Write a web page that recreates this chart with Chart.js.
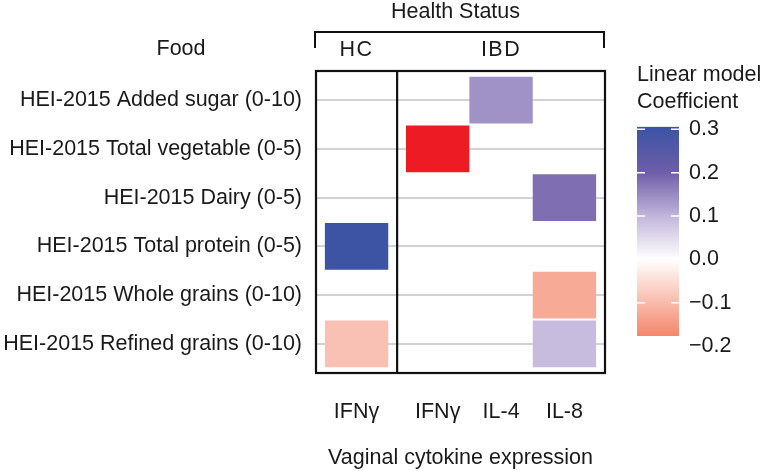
<!DOCTYPE html>
<html>
<head>
<meta charset="utf-8">
<script src="https://cdn.jsdelivr.net/npm/chart.js@4.4.1/dist/chart.umd.min.js"></script>
<style>
  body { margin: 0; background: #fff; }
  #wrap { position: relative; width: 764px; height: 471px; }
  #heat { position: absolute; left: 0; top: 0; }
  #scale { position: absolute; left: 600px; top: 60px; }
</style>
</head>
<body>
<div id="wrap">
  <canvas id="heat" width="764" height="471"></canvas>
  <canvas id="scale" width="164" height="300"></canvas>
</div>
<script>
// rows (top to bottom) and columns of the heatmap
const foods = [
    'HEI-2015 Added sugar (0-10)',
    'HEI-2015 Total vegetable (0-5)',
    'HEI-2015 Dairy (0-5)',
    'HEI-2015 Total protein (0-5)',
    'HEI-2015 Whole grains (0-10)',
    'HEI-2015 Refined grains (0-10)'
];
const cytokines = ['IFNγ', 'IFNγ', 'IL-4', 'IL-8'];
const healthStatus = ['HC', 'IBD', 'IBD', 'IBD'];

// linear model coefficients, one row per food, one column per cytokine
const coefficients = [
    [null, null, 0.14, null],
    [null, -0.25, null, null],
    [null, null, null, 0.18],
    [0.30, null, null, null],
    [null, null, null, -0.125],
    [-0.09, null, null, 0.09]
];

const legendLimits = [-0.177, 0.306];
const legendTicks = [0.3, 0.2, 0.1, 0.0, -0.1, -0.2];

const FONT = "'Liberation Sans', Arial, Helvetica, sans-serif";
const FONT_SIZE = 21.5;
const TEXT = '#1a1a1a';
Chart.defaults.font.family = FONT;
Chart.defaults.font.size = FONT_SIZE;
Chart.defaults.color = TEXT;

// colour ramp salmon -> white -> lavender -> purple -> blue
const colorStops = [
    [legendLimits[0], [244, 134, 107]],
    [0, [255, 255, 255]],
    [0.1, [194, 181, 218]],
    [0.2, [110, 94, 168]],
    [legendLimits[1], [58, 83, 164]]
];
const OUT_OF_RANGE = '#ED1C24';

function colorFor(v) {
    if (v < legendLimits[0] || v > legendLimits[1]) return OUT_OF_RANGE;
    for (let i = 1; i < colorStops.length; i++) {
        const [v1, c1] = colorStops[i];
        const [v0, c0] = colorStops[i - 1];
        if (v <= v1) {
            const t = (v - v0) / (v1 - v0);
            const c = c0.map((a, k) => Math.round(a + (c1[k] - a) * t));
            return `rgb(${c[0]},${c[1]},${c[2]})`;
        }
    }
    return OUT_OF_RANGE;
}

// facet layout: each health status group gets its own panel with a little expansion
const EXPAND = 0.14;
const groups = [...new Set(healthStatus)];
const colPos = cytokines.map((c, i) => i + groups.indexOf(healthStatus[i]) * 2 * EXPAND);
const xMin = colPos[0] - 0.5 - EXPAND;
const xMax = colPos[colPos.length - 1] + 0.5 + EXPAND;

const cells = [];
coefficients.forEach((row, r) => {
    row.forEach((v, c) => {
        if (v !== null) cells.push({ x: [colPos[c] - 0.5, colPos[c] + 0.5], y: r, v: v });
    });
});

const framePlugin = {
    id: 'frame',
    afterDraw(chart) {
        const { ctx, chartArea: a, scales } = chart;
        const xs = scales.x;
        ctx.save();
        ctx.strokeStyle = '#111';
        ctx.lineWidth = 2.2;
        ctx.strokeRect(a.left, a.top, a.right - a.left, a.bottom - a.top);

        // panel dividers and strip labels
        ctx.fillStyle = TEXT;
        ctx.textAlign = 'center';
        ctx.textBaseline = 'middle';
        ctx.font = FONT_SIZE + 'px ' + FONT;
        groups.forEach((g, gi) => {
            const idx = healthStatus.map((h, i) => h === g ? i : -1).filter(i => i >= 0);
            const lo = colPos[idx[0]] - 0.5 - EXPAND;
            const hi = colPos[idx[idx.length - 1]] + 0.5 + EXPAND;
            if (gi > 0) {
                const px = xs.getPixelForValue(lo);
                ctx.beginPath();
                ctx.moveTo(px, a.top);
                ctx.lineTo(px, a.bottom);
                ctx.stroke();
            }
            if ('letterSpacing' in ctx) ctx.letterSpacing = '1.5px';
            ctx.fillText(g, xs.getPixelForValue((lo + hi) / 2), 50);
            if ('letterSpacing' in ctx) ctx.letterSpacing = '0px';
        });

        // bracket above the strips
        ctx.lineWidth = 2;
        ctx.beginPath();
        ctx.moveTo(a.left - 1, 48);
        ctx.lineTo(a.left - 1, 32);
        ctx.lineTo(a.right - 1, 32);
        ctx.lineTo(a.right - 1, 48);
        ctx.stroke();

        ctx.fillText('Health Status', (a.left + a.right) / 2 - 5, 12);
        ctx.fillText('Food', 181, 49);
        ctx.restore();
    }
};

new Chart(document.getElementById('heat'), {
    type: 'bar',
    data: {
        datasets: [{
            data: cells,
            backgroundColor: ctx => colorFor(ctx.raw.v),
            borderWidth: 0,
            barPercentage: 0.96,
            categoryPercentage: 1
        }]
    },
    options: {
        responsive: false,
        animation: false,
        indexAxis: 'y',
        layout: { padding: { top: 71, right: 159, bottom: 0, left: 0 } },
        plugins: {
            legend: { display: false },
            tooltip: { enabled: false }
        },
        scales: {
            x: {
                type: 'linear',
                min: xMin,
                max: xMax,
                grid: { display: false, drawTicks: false },
                border: { display: false },
                afterBuildTicks: s => { s.ticks = colPos.map(v => ({ value: v })); },
                ticks: {
                    autoSkip: false,
                    maxRotation: 0,
                    padding: 26,
                    color: TEXT,
                    callback: (v, i) => cytokines[i]
                },
                title: {
                    display: true,
                    text: 'Vaginal cytokine expression',
                    color: TEXT,
                    padding: 0
                },
                afterFit: s => { s.height = 98; }
            },
            y: {
                type: 'linear',
                reverse: true,
                offset: false,
                min: -0.6,
                max: foods.length - 0.4,
                grid: { color: '#D2D2D6', lineWidth: 2, drawTicks: false, offset: false },
                border: { display: false },
                afterBuildTicks: s => { s.ticks = foods.map((f, i) => ({ value: i })); },
                ticks: {
                    padding: 14,
                    color: TEXT,
                    callback: (v, i) => foods[i]
                },
                afterFit: s => { s.width = 316; }
            }
        }
    },
    plugins: [framePlugin]
});

// colour bar legend
const [lo, hi] = legendLimits;
const barTicksPlugin = {
    id: 'barTicks',
    afterDatasetsDraw(chart) {
        const { ctx, chartArea: a, scales } = chart;
        ctx.save();
        ctx.strokeStyle = '#fff';
        ctx.lineWidth = 1.5;
        legendTicks.filter(v => v >= lo && v <= hi).forEach(v => {
            const py = scales.y.getPixelForValue(v);
            ctx.beginPath();
            ctx.moveTo(a.left, py);
            ctx.lineTo(a.left + 8, py);
            ctx.moveTo(a.right - 8, py);
            ctx.lineTo(a.right, py);
            ctx.stroke();
        });
        ctx.restore();
    }
};

new Chart(document.getElementById('scale'), {
    type: 'bar',
    data: {
        labels: [''],
        datasets: [{
            data: [legendLimits],
            barPercentage: 1,
            categoryPercentage: 1,
            borderWidth: 0,
            backgroundColor: ctx => {
                const chart = ctx.chart;
                if (!chart.chartArea) return null;
                const ys = chart.scales.y;
                const g = chart.ctx.createLinearGradient(0, ys.getPixelForValue(lo), 0, ys.getPixelForValue(hi));
                colorStops.forEach(([v, c]) => {
                    g.addColorStop((v - lo) / (hi - lo), `rgb(${c[0]},${c[1]},${c[2]})`);
                });
                return g;
            }
        }]
    },
    options: {
        responsive: false,
        animation: false,
        layout: { padding: { left: 37, right: 0, top: 0, bottom: 24 } },
        plugins: {
            legend: { display: false },
            tooltip: { enabled: false },
            title: {
                display: true,
                text: ['Linear model', 'Coefficient'],
                align: 'start',
                color: TEXT,
                font: { size: FONT_SIZE, weight: 'normal', lineHeight: 1.27 },
                padding: { top: 1.6, bottom: 10.5 }
            }
        },
        scales: {
            x: { display: false },
            y: {
                position: 'right',
                min: lo,
                max: hi,
                grid: { display: false, drawTicks: false },
                border: { display: false },
                afterBuildTicks: s => { s.ticks = legendTicks.map(v => ({ value: v })); },
                ticks: {
                    padding: 10,
                    color: TEXT,
                    callback: v => v.toFixed(1).replace('-', '\u2212')
                },
                afterFit: s => { s.width = 85; }
            }
        }
    },
    plugins: [barTicksPlugin]
});
</script>
</body>
</html>
